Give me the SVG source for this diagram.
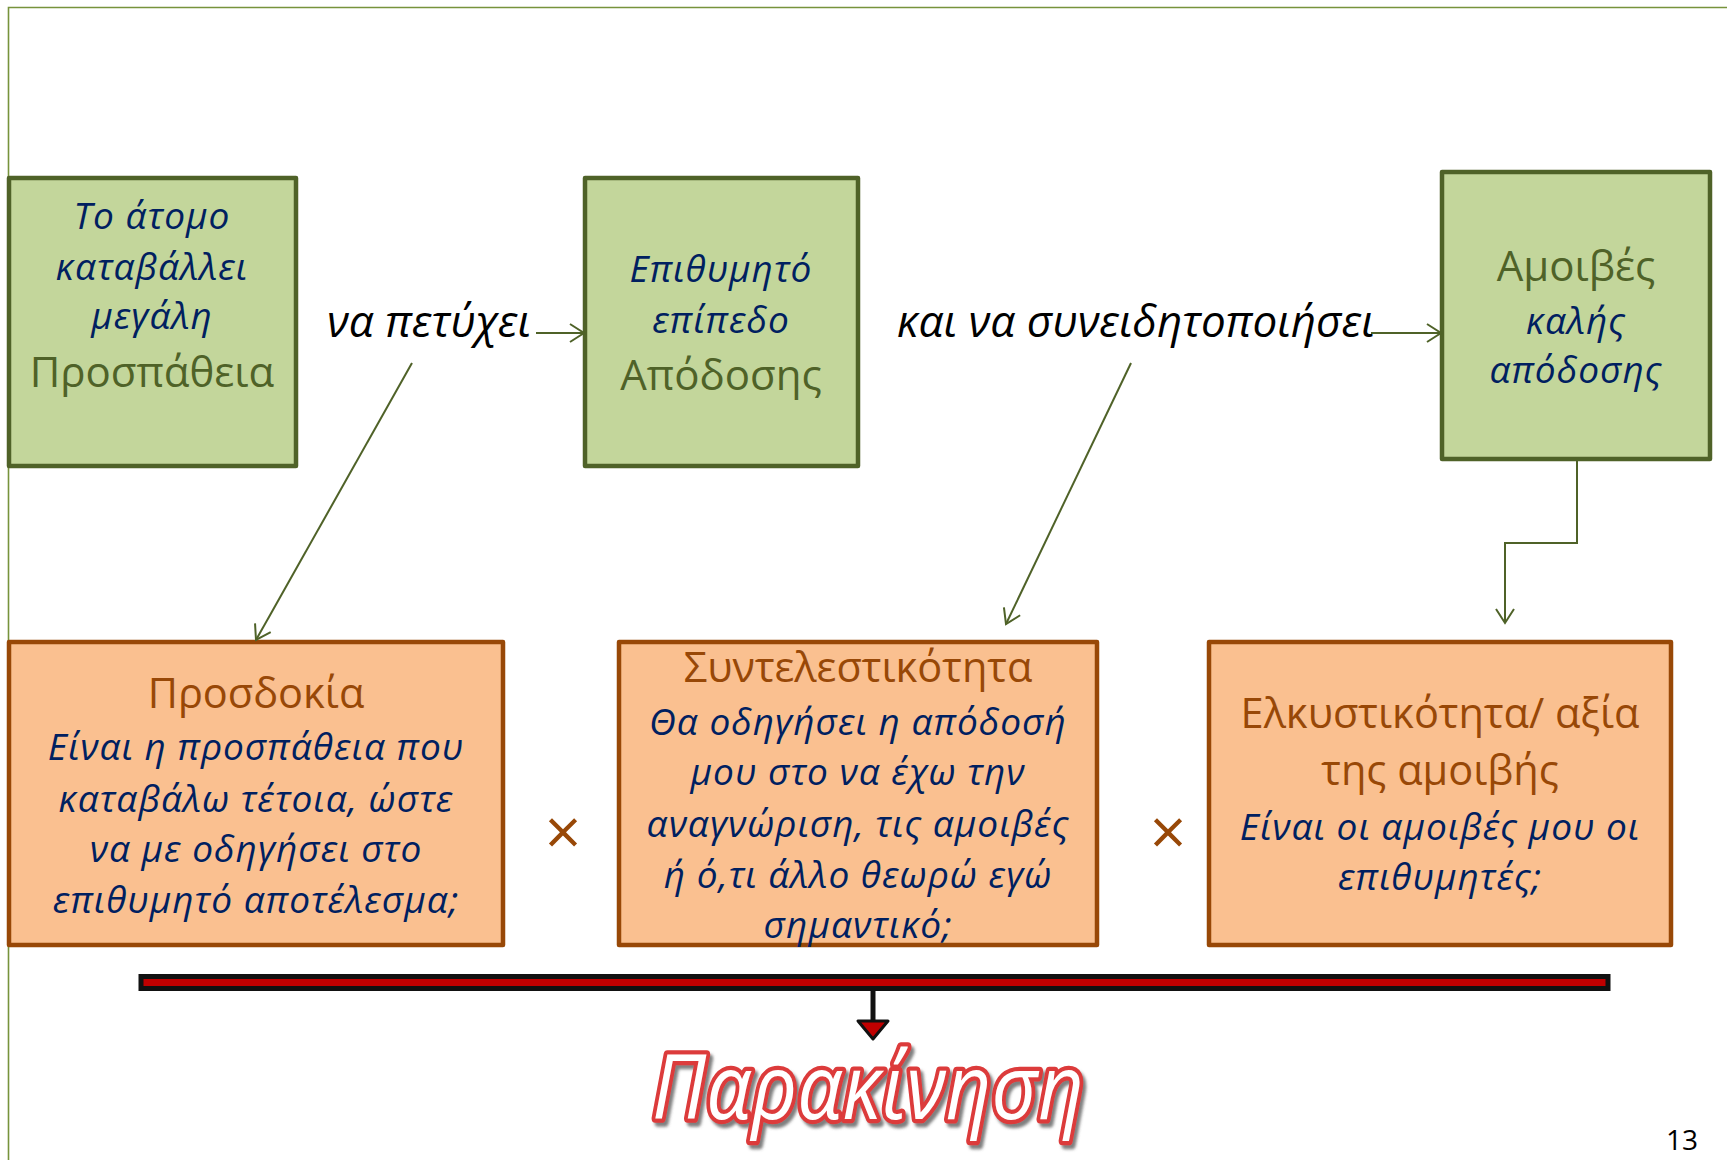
<svg xmlns="http://www.w3.org/2000/svg" width="1727" height="1160" viewBox="0 0 1727 1160">
<defs>
<style>
.g{fill:#C3D69B;stroke:#4F6228;stroke-width:4.5;stroke-linejoin:round}
.o{fill:#FAC090;stroke:#984807;stroke-width:4.5;stroke-linejoin:round}
text{font-family:"Open Sans","Noto Sans",sans-serif;text-anchor:middle}
.it{font-style:italic;fill:#002060;font-size:37px;letter-spacing:1px}
.ol{fill:#4F6228;font-size:42px}
.br{fill:#984807;font-size:41.5px}
.lb{font-style:italic;fill:#000;font-size:44px}
.x{fill:#984807;font-size:64px}
.c{fill:none;stroke:#4F6228;stroke-width:2}
</style>
<marker id="ah" markerUnits="userSpaceOnUse" markerWidth="20" markerHeight="22" viewBox="0 0 18 22" refX="16" refY="11" orient="auto">
<path d="M2,2 L16,11 L2,20" fill="none" stroke="#4F6228" stroke-width="2"/>
</marker>
<filter id="sh" x="-10%" y="-20%" width="130%" height="150%">
<feDropShadow dx="3" dy="4" stdDeviation="1.8" flood-color="#555" flood-opacity="0.75"/>
</filter>
</defs>
<rect width="1727" height="1160" fill="#fff"/>
<path d="M8.5,1160 V7.5 H1727" fill="none" stroke="#77933C" stroke-width="1.6"/>

<g id="n-atomo">
<rect class="g" x="9" y="178" width="287" height="288"/>
<text class="it" x="152" y="229">Το άτομο</text>
<text class="it" x="152" y="280">καταβάλλει</text>
<text class="it" x="152" y="329">μεγάλη</text>
<text class="ol" x="152" y="387">Προσπάθεια</text>
</g>
<g id="n-epipedo">
<rect class="g" x="585" y="178" width="273" height="288"/>
<text class="it" x="721" y="282">Επιθυμητό</text>
<text class="it" x="721" y="333">επίπεδο</text>
<text class="ol" x="721" y="390">Απόδοσης</text>
</g>
<g id="n-amoives">
<rect class="g" x="1442" y="172" width="268" height="287"/>
<text class="ol" x="1576" y="281">Αμοιβές</text>
<text class="it" x="1576" y="334">καλής</text>
<text class="it" x="1576" y="383">απόδοσης</text>
</g>
<g id="l-petyxei"><text class="lb" x="429" y="337">να πετύχει</text></g>
<g id="l-syneid"><text class="lb" x="1136" y="337">και να συνειδητοποιήσει</text></g>

<g id="n-prosdokia">
<rect class="o" x="9" y="642" width="494" height="303"/>
<text class="br" x="256" y="708">Προσδοκία</text>
<text class="it" x="256" y="760">Είναι η προσπάθεια που</text>
<text class="it" x="256" y="812">καταβάλω τέτοια, ώστε</text>
<text class="it" x="256" y="862">να με οδηγήσει στο</text>
<text class="it" x="256" y="913">επιθυμητό αποτέλεσμα;</text>
</g>
<g id="n-syntel">
<rect class="o" x="619" y="642" width="478" height="303"/>
<text class="br" x="858" y="682">Συντελεστικότητα</text>
<text class="it" x="858" y="735">Θα οδηγήσει η απόδοσή</text>
<text class="it" x="858" y="785">μου στο να έχω την</text>
<text class="it" x="858" y="837">αναγνώριση, τις αμοιβές</text>
<text class="it" x="858" y="888">ή ό,τι άλλο θεωρώ εγώ</text>
<text class="it" x="858" y="938">σημαντικό;</text>
</g>
<g id="n-elkys">
<rect class="o" x="1209" y="642" width="462" height="303"/>
<text class="br" x="1440" y="728">Ελκυστικότητα/ αξία</text>
<text class="br" x="1440" y="785">της αμοιβής</text>
<text class="it" x="1440" y="840">Είναι οι αμοιβές μου οι</text>
<text class="it" x="1440" y="890">επιθυμητές;</text>
</g>
<g id="ops">
<text class="x" x="563" y="855">×</text>
<text class="x" x="1168" y="855">×</text>
</g>

<g id="connectors">
<line class="c" x1="536" y1="333" x2="584" y2="333" marker-end="url(#ah)"/>
<line class="c" x1="1371" y1="333" x2="1441" y2="333" marker-end="url(#ah)"/>
<line class="c" x1="412" y1="363" x2="256" y2="640" marker-end="url(#ah)"/>
<line class="c" x1="1131" y1="363" x2="1006" y2="624" marker-end="url(#ah)"/>
<polyline class="c" points="1577,459 1577,543 1505,543 1505,623" marker-end="url(#ah)"/>
<line x1="873" y1="989" x2="873" y2="1022" stroke="#111" stroke-width="5"/>
<polygon points="858,1021 888,1021 873,1039" fill="#C00000" stroke="#111" stroke-width="3" stroke-linejoin="round"/>
</g>

<g id="bar">
<rect x="141" y="976.5" width="1467" height="12" fill="#C00000" stroke="#111" stroke-width="5"/>
</g>

<g id="title" filter="url(#sh)">
<text x="868" y="1119" font-style="italic" font-size="90" textLength="432" lengthAdjust="spacingAndGlyphs" fill="#fff" stroke="#DC3A3A" stroke-width="8.5" stroke-linejoin="round" paint-order="stroke">Παρακίνηση</text>
</g>
<text x="1682" y="1150" font-family="Liberation Sans,sans-serif" font-size="28" fill="#000">13</text>
</svg>
